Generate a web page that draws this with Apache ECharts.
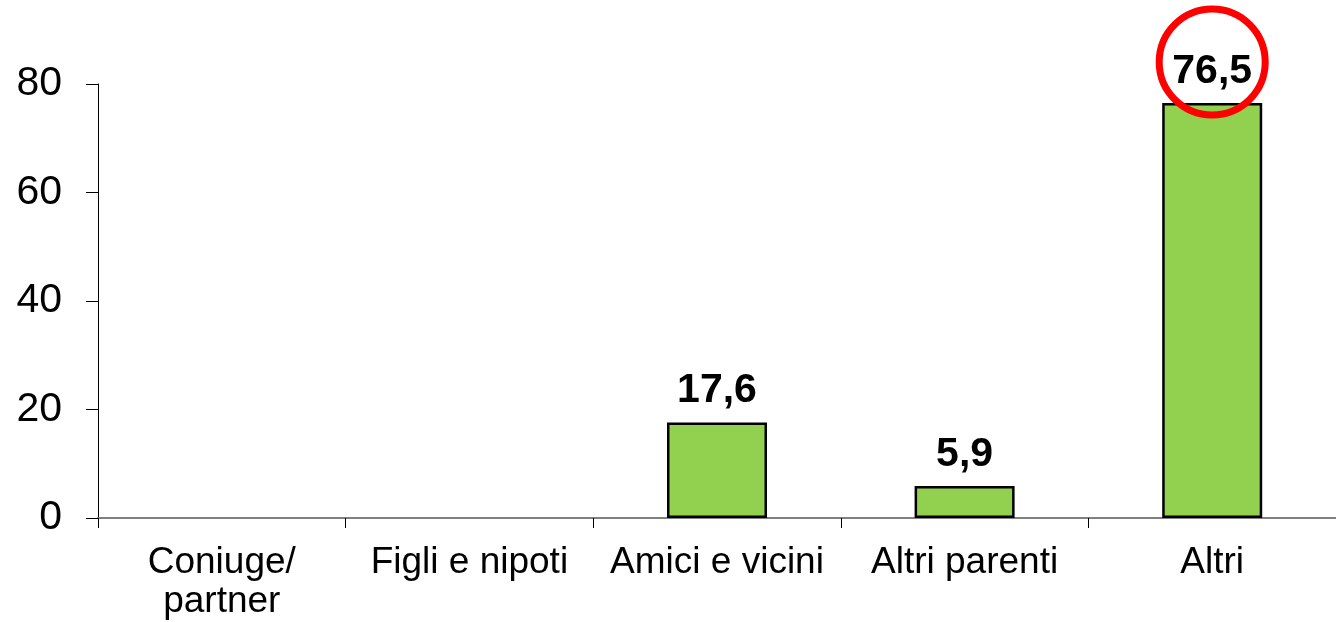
<!DOCTYPE html>
<html>
<head>
<meta charset="utf-8">
<script src="https://cdn.jsdelivr.net/npm/echarts@6/dist/echarts.min.js"></script>
<style>
  html, body { margin: 0; padding: 0; background: #fff; }
  #chart { width: 1336px; height: 622px; }
</style>
</head>
<body>
<div id="chart"></div>
<script>
var categories = ['Coniuge/\npartner', 'Figli e nipoti', 'Amici e vicini', 'Altri parenti', 'Altri']
var values = [0, 0, 17.6, 5.9, 76.5]
var yTicks = [0, 20, 40, 60, 80]

var myChart = echarts.init(document.getElementById('chart'))
var font = 'Liberation Sans, Arial, sans-serif'

// empty categories get no outline
var barData = values.map(function (v) {
  return v === 0 ? { value: v, itemStyle: { borderWidth: 0 } } : v
})

var option = {
  animation: false,
  grid: { left: 98, right: 0, top: 84, bottom: 104 },
  xAxis: {
    type: 'category',
    data: categories,
    axisLine: { lineStyle: { color: '#808080', width: 2 } },
    axisTick: { show: true, length: 10, lineStyle: { color: '#000', width: 1 } },
    axisLabel: { color: '#000', fontSize: 37, fontFamily: font, margin: 25, lineHeight: 39, interval: 0 },
    splitLine: { show: false }
  },
  yAxis: {
    type: 'value',
    min: yTicks[0],
    max: yTicks[yTicks.length - 1],
    interval: 20,
    axisLine: { show: true, lineStyle: { color: '#000', width: 1 } },
    axisTick: { show: true, length: 12, lineStyle: { color: '#000', width: 1 } },
    axisLabel: { color: '#000', fontSize: 41, fontFamily: font, margin: 36 },
    splitLine: { show: false }
  },
  series: [
    {
      type: 'bar',
      data: barData,
      barWidth: 100,
      itemStyle: { color: '#92D050', borderColor: '#000', borderWidth: 2.5 },
      label: {
        show: true,
        position: 'top',
        distance: 11,
        color: '#000',
        fontSize: 41,
        fontWeight: 'bold',
        fontFamily: font,
        formatter: function (p) {
          return p.value ? String(p.value).replace('.', ',') : ''
        }
      },
      markPoint: {
        silent: true,
        symbol: 'circle',
        symbolSize: 106,
        symbolOffset: [0, -41],
        label: { show: false },
        itemStyle: { color: 'rgba(0,0,0,0)', borderColor: '#FF0000', borderWidth: 7 },
        data: [{ coord: [4, 76.5] }]
      }
    }
  ]
}

myChart.setOption(option)
</script>
</body>
</html>
